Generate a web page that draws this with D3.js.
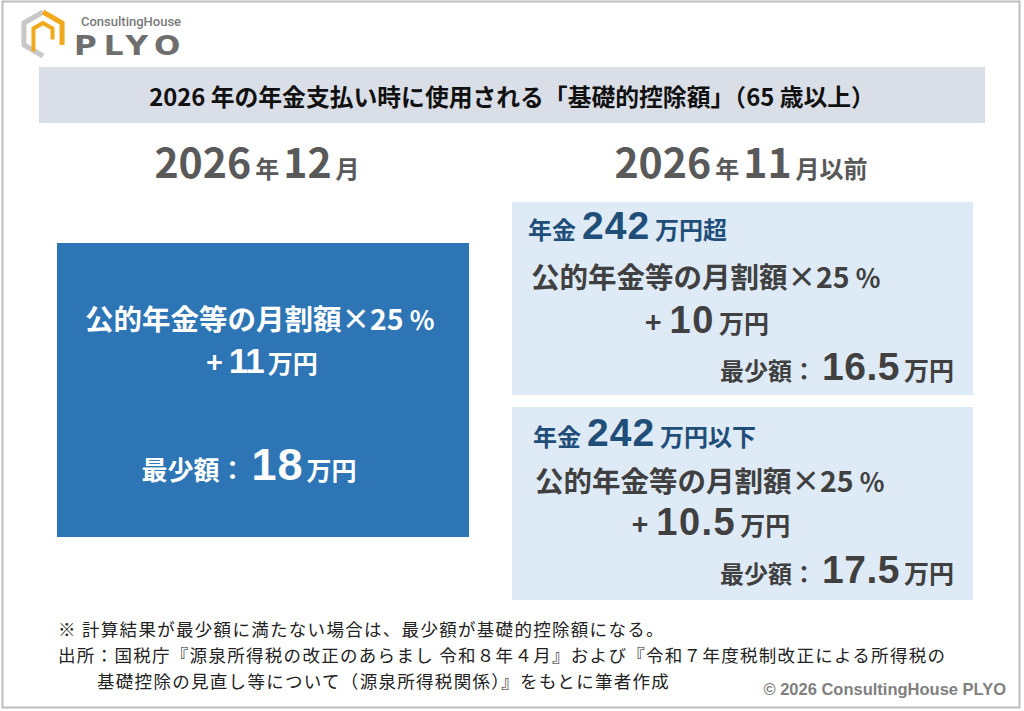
<!DOCTYPE html>
<html><head><meta charset="utf-8">
<script src="https://cdn.jsdelivr.net/npm/d3@7/dist/d3.min.js"></script>
<style>body{margin:0;background:#fff}svg{display:block}</style>
</head><body><div id="c"></div>
<script>
// ---- data ----
const title = "2026 年の年金支払い時に使用される「基礎的控除額」（65 歳以上）";
const periods = [["2026","年","12","月"],["2026","年","11","月以前"]];
const pensionThreshold = 242;
const thresholdLabels = ["万円超","万円以下"];
const rateText = ["公的年金等の月割額", "×", "25", "％"];
const addAmounts = [11, 10, 10.5];        // 万円 (Dec, >242, <=242)
const minimumAmounts = [18, 16.5, 17.5];  // 万円
const note = "※ 計算結果が最少額に満たない場合は、最少額が基礎的控除額になる。";
const sourceLines = ["出所：国税庁『源泉所得税の改正のあらまし 令和８年４月』および『令和７年度税制改正による所得税の",
                     "基礎控除の見直し等について（源泉所得税関係）』をもとに筆者作成"];
const copyright = "© 2026 ConsultingHouse PLYO";

const W = 1024, H = 711;
const FONT = "'Noto Sans CJK JP','Noto Sans',sans-serif";
const NUM = "'Liberation Sans',Arial,sans-serif";
const svg = d3.select("#c").append("svg").attr("width", W).attr("height", H);

// outer frame
svg.append("rect").attr("x",2.5).attr("y",1.5).attr("width",1017).attr("height",706)
  .attr("fill","#fff").attr("stroke","#bdbdbd").attr("stroke-width",2);

// logo
const logo = svg.append("g");
const hex = (cx,cy,r)=>d3.range(6).map(i=>{const a=Math.PI/3*i-Math.PI/2;return [cx+r*Math.cos(a),cy+r*Math.sin(a)];});
const ho = hex(43,34,22), hi = hex(43,34,11);
logo.append("path").attr("d", d3.line()([ho[0],ho[5],ho[4],ho[3]]))
  .attr("fill","none").attr("stroke","#c8c8c8").attr("stroke-width",5).attr("stroke-linejoin","miter");
logo.append("path").attr("d", d3.line()([ho[0],ho[1],ho[2],[ho[2][0],ho[2][1]-6]]))
  .attr("fill","none").attr("stroke","#f0a81c").attr("stroke-width",5);
logo.append("path").attr("d", d3.line()([[hi[4][0],hi[4][1]+12],hi[4],hi[5],hi[0],hi[1],hi[2]]))
  .attr("fill","none").attr("stroke","#f0a81c").attr("stroke-width",4);
logo.append("text").attr("x",81).attr("y",26).attr("font-family","Roboto,Inter,sans-serif")
  .attr("font-weight",500).attr("font-size",13).attr("fill","#7a7a7a").text("ConsultingHouse");
logo.append("text").attr("x",74).attr("y",55).attr("font-family","'DejaVu Sans',sans-serif")
  .attr("font-weight",700).attr("font-size",31).attr("letter-spacing",7).attr("fill","#6e6e6e")
  .attr("transform","scale(1,0.85) translate(0,9.5)").text("PLYO");

// title band
svg.append("rect").attr("x",39).attr("y",67).attr("width",946).attr("height",56).attr("fill","#dadee7");
svg.append("text").attr("x",512).attr("y",106).attr("text-anchor","middle")
  .attr("font-family",FONT).attr("font-weight",700).attr("font-size",23.8).attr("fill","#111").text(title);

const colCenters = [257, 741];

// seg: [text, size, dx, family, letterSpacing]
function rich(g, x, y, segs, anchor, color){
  const t = g.append("text").attr("x",x).attr("y",y).attr("text-anchor",anchor||"start")
    .attr("font-family",FONT).attr("font-weight",700).attr("fill",color);
  segs.forEach(s=>{
    const ts = t.append("tspan").attr("font-size",s[1]).text(s[0]);
    if (s[2]) ts.attr("dx", s[2]);
    if (s[3]) ts.attr("font-family", s[3]);
    if (s[4]) ts.attr("letter-spacing", s[4]);
  });
  return t;
}
const rateSegs = (fs)=>[[rateText[0],fs],[rateText[1],fs],[rateText[2],fs],[rateText[3],fs*0.9,fs*0.2]];

periods.forEach((p,i)=>{
  rich(svg, colCenters[i], 178, [[p[0],41],[p[1],24,4],[p[2],41,4],[p[3],24,4]], "middle", "#595959");
});

// left box (December)
const lb = svg.append("g");
lb.append("rect").attr("x",57).attr("y",243).attr("width",412).attr("height",294).attr("fill","#2e75b6");
rich(lb, 260, 330, rateSegs(28.5), "middle", "#fff");
rich(lb, 262, 373, [["+",28],[String(addAmounts[0]),35,6,NUM,-1],["万円",25,4]], "middle", "#fff");
rich(lb, 249, 480, [["最少額：",26],[String(minimumAmounts[0]),45,6,NUM,1],["万円",25,3]], "middle", "#fff");

// right boxes
const rb = [{y:202, lab:thresholdLabels[0], add:addAmounts[1], min:minimumAmounts[1], x0:528, ty:239, fy:288, ay:333, my:380, ax:707, fx:531},
            {y:407, lab:thresholdLabels[1], add:addAmounts[2], min:minimumAmounts[2], x0:533, ty:446, fy:492, ay:535, my:583, ax:711, fx:535}];
rb.forEach(b=>{
  const g = svg.append("g");
  g.append("rect").attr("x",512).attr("y",b.y).attr("width",461).attr("height",193).attr("fill","#deeaf6");
  rich(g, b.x0, b.ty, [["年金",24],[String(pensionThreshold),39,6,NUM,1],[b.lab,24,5]], "start", "#1f4e79");
  rich(g, b.fx, b.fy, rateSegs(28.5), "start", "#404040");
  rich(g, b.ax, b.ay, [["+",28],[String(b.add),38,8,NUM,1.5],["万円",25,4]], "middle", "#404040");
  rich(g, 954, b.my, [["最少額：",24],[String(b.min),39,6,NUM,0.5],["万円",25,4]], "end", "#404040");
});

// footnotes
const fn = svg.append("g").attr("font-family",FONT).attr("font-size",17.5).attr("letter-spacing",1.3).attr("fill","#222");
fn.append("text").attr("x",58).attr("y",636).text(note);
fn.append("text").attr("x",58).attr("y",662).text(sourceLines[0]);
fn.append("text").attr("x",97).attr("y",688).text(sourceLines[1]);
svg.append("text").attr("x",1006).attr("y",695).attr("text-anchor","end")
  .attr("font-family","'Liberation Sans',Arial,sans-serif").attr("font-weight",700)
  .attr("font-size",16.5).attr("fill","#808080").text(copyright);
</script></body></html>
